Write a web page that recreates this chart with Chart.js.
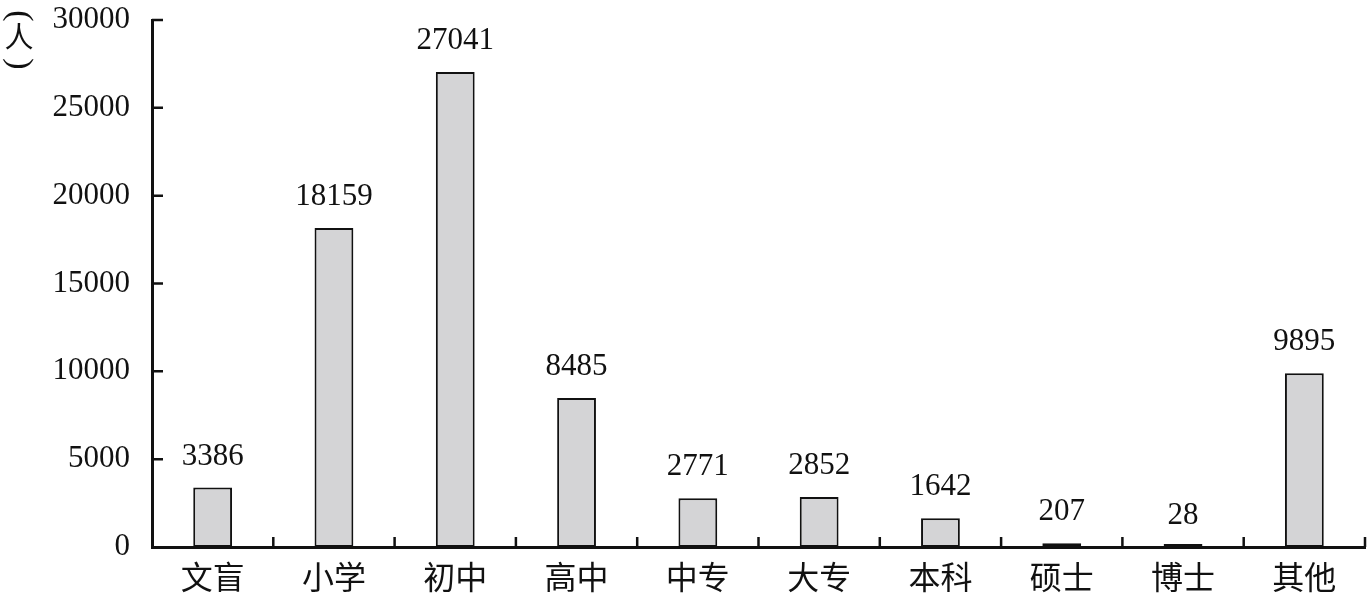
<!DOCTYPE html>
<html>
<head>
<meta charset="utf-8">
<script src="https://cdn.jsdelivr.net/npm/chart.js@4/dist/chart.umd.min.js"></script>
<style>
  html, body { margin: 0; padding: 0; background: #fff; }
  #wrap { position: relative; width: 1367px; height: 603px; }
</style>
</head>
<body>
<div id="wrap">
  <canvas id="c" width="1367" height="603"></canvas>
</div>
<script>
const categories = ["文盲", "小学", "初中", "高中", "中专", "大专", "本科", "硕士", "博士", "其他"];
const values = [3386, 18159, 27041, 8485, 2771, 2852, 1642, 207, 28, 9895];
const yTicks = [0, 5000, 10000, 15000, 20000, 25000, 30000];
const yTitle = ["(", "人", ")"];

const FONT = '"Liberation Serif", "Times New Roman", "Noto Sans CJK SC", serif';
const CJK = '"Noto Sans CJK SC", serif';

const inwardTicks = {
  id: 'inwardTicks',
  afterDraw(chart) {
    const ctx = chart.ctx;
    const x = chart.scales.x, y = chart.scales.y;
    const area = chart.chartArea;
    ctx.save();
    ctx.strokeStyle = '#111';
    ctx.lineWidth = 2.5;
    ctx.beginPath();
    yTicks.forEach(v => {
      if (v === 0) return;
      const py = y.getPixelForValue(v);
      ctx.moveTo(area.left, py);
      ctx.lineTo(area.left + 11, py);
    });
    const step = x.getPixelForValue(1) - x.getPixelForValue(0);
    for (let i = 0; i < categories.length; i++) {
      const px = x.getPixelForValue(i) + step / 2;
      ctx.moveTo(px, area.bottom);
      ctx.lineTo(px, area.bottom - 10);
    }
    ctx.stroke();
    // data labels
    ctx.fillStyle = '#111';
    ctx.font = '31px ' + FONT;
    ctx.textAlign = 'center';
    ctx.textBaseline = 'alphabetic';
    const meta = chart.getDatasetMeta(0);
    meta.data.forEach((bar, i) => {
      ctx.fillText(String(values[i]), bar.x, y.getPixelForValue(values[i]) - 23);
    });
    // vertical y-axis title (stacked, brackets rotated)
    const ty = y.getPixelForValue(30000);
    const tx = 19;
    ctx.textBaseline = 'middle';
    ctx.font = '34px ' + FONT;
    [[yTitle[0], ty - 4], [yTitle[2], ty + 44]].forEach(([ch, cy]) => {
      ctx.save();
      ctx.translate(tx, cy);
      ctx.rotate(Math.PI / 2);
      ctx.fillText(ch, 0, 0);
      ctx.restore();
    });
    ctx.font = '29px ' + CJK;
    ctx.fillText(yTitle[1], tx, ty + 17);
    ctx.restore();
  }
};

new Chart(document.getElementById('c'), {
  type: 'bar',
  data: {
    labels: categories,
    datasets: [{
      data: values,
      backgroundColor: '#d4d4d6',
      borderColor: '#111',
      borderWidth: 2,
      borderSkipped: false,
      minBarLength: 3,
      barPercentage: 0.32,
      categoryPercentage: 1.0
    }]
  },
  options: {
    responsive: false,
    animation: false,
    devicePixelRatio: 1,
    layout: { padding: { top: 0, right: 2, left: 0, bottom: 0 } },
    plugins: { legend: { display: false }, tooltip: { enabled: false } },
    scales: {
      x: {
        grid: { display: false, drawTicks: false },
        border: { display: true, color: '#111', width: 3 },
        ticks: { color: '#111', font: { size: 32, family: FONT }, padding: 14, maxRotation: 0 },
        afterFit(s) { s.height = 56; }
      },
      y: {
        min: 0, max: 30000,
        grid: { display: false, drawTicks: false },
        border: { display: true, color: '#111', width: 3 },
        afterBuildTicks(s) { s.ticks = yTicks.map(v => ({ value: v })); },
        ticks: { color: '#111', font: { size: 31, family: FONT }, padding: 22, callback: v => String(v) },
        afterFit(s) { s.width = 152; s.paddingTop = 20; }
      }
    }
  },
  plugins: [inwardTicks]
});
</script>
</body>
</html>
